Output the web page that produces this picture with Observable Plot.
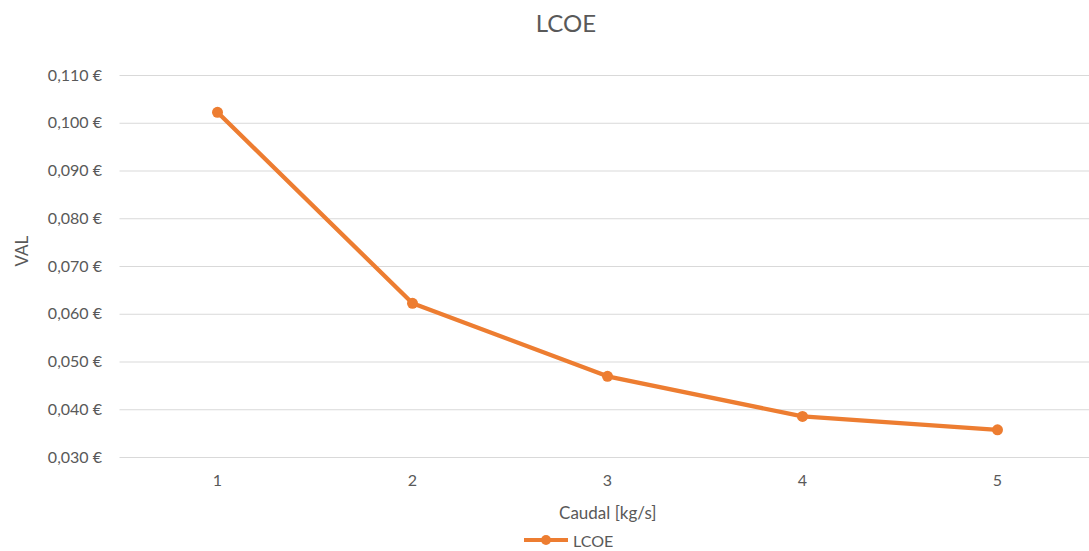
<!DOCTYPE html>
<html>
<head>
<meta charset="utf-8">
<script src="https://cdn.jsdelivr.net/npm/d3@7"></script>
<script src="https://cdn.jsdelivr.net/npm/@observablehq/plot@0.6"></script>
<style>
  html, body { margin: 0; padding: 0; background: #fff; }
  #wrap { position: relative; width: 1089px; height: 551px; font-family: Lato, "Open Sans", sans-serif; color: #595959; }
  #title { position: absolute; left: 0; width: 1132px; top: 8px; text-align: center; font-size: 24px; color: #595959; }
  #legend { position: absolute; left: 523px; top: 530px; display: flex; align-items: center; font-size: 16px; color: #595959; }
  #chart { position: absolute; left: 0; top: 0; }
</style>
</head>
<body>
<div id="wrap">
  <div id="chart"></div>
  <div id="title">LCOE</div>
  <div id="legend">
    <svg width="46" height="20"><line x1="1" y1="10" x2="45" y2="10" stroke="#ED7D31" stroke-width="4"/><circle cx="23" cy="10" r="5" fill="#ED7D31"/></svg>
    <span style="margin-left:4px">LCOE</span>
  </div>
</div>
<script>
const categories = [1, 2, 3, 4, 5];
const lcoeValues = [0.1023, 0.0623, 0.0470, 0.0386, 0.0358];
const yTicks = [0.03, 0.04, 0.05, 0.06, 0.07, 0.08, 0.09, 0.10, 0.11];

const data = categories.map((c, i) => ({caudal: c, lcoe: lcoeValues[i]}));
const fmt = v => v.toFixed(3).replace(".", ",") + " €";
const orange = "#ED7D31";

const chart = Plot.plot({
  width: 1089,
  height: 551,
  marginLeft: 119.5,
  marginRight: 0,
  marginTop: 75,
  marginBottom: 94,
  style: {fontFamily: "Lato, 'Open Sans', sans-serif", fontSize: "16px", color: "#595959", background: "white"},
  x: {type: "linear", domain: [0.5, 5.5], range: [119.5, 1094.5]},
  y: {domain: [0.03, 0.11], range: [457, 75]},
  marks: [
    Plot.ruleY(yTicks, {stroke: "#d9d9d9", strokeWidth: 1}),
    Plot.axisY({ticks: yTicks, tickFormat: fmt, tickSize: 0, tickPadding: 18, label: null, fontSize: 16, fill: "#595959"}),
    Plot.axisX({ticks: categories, tickFormat: d => String(d), tickSize: 0, tickPadding: 17, label: null, fontSize: 16, fill: "#595959"}),
    Plot.text(["VAL"], {frameAnchor: "left", dx: -97, rotate: -90, fontSize: 17, fill: "#595959"}),
    Plot.text(["Caudal [kg/s]"], {frameAnchor: "bottom", dy: 61, fontSize: 17, fill: "#595959", dx: 3}),
    Plot.line(data, {x: "caudal", y: "lcoe", stroke: orange, strokeWidth: 4.3, strokeLinejoin: "round", strokeLinecap: "round"}),
    Plot.dot(data, {x: "caudal", y: "lcoe", r: 5.5, fill: orange, stroke: null})
  ]
});
document.getElementById("chart").appendChild(chart);
</script>
</body>
</html>
